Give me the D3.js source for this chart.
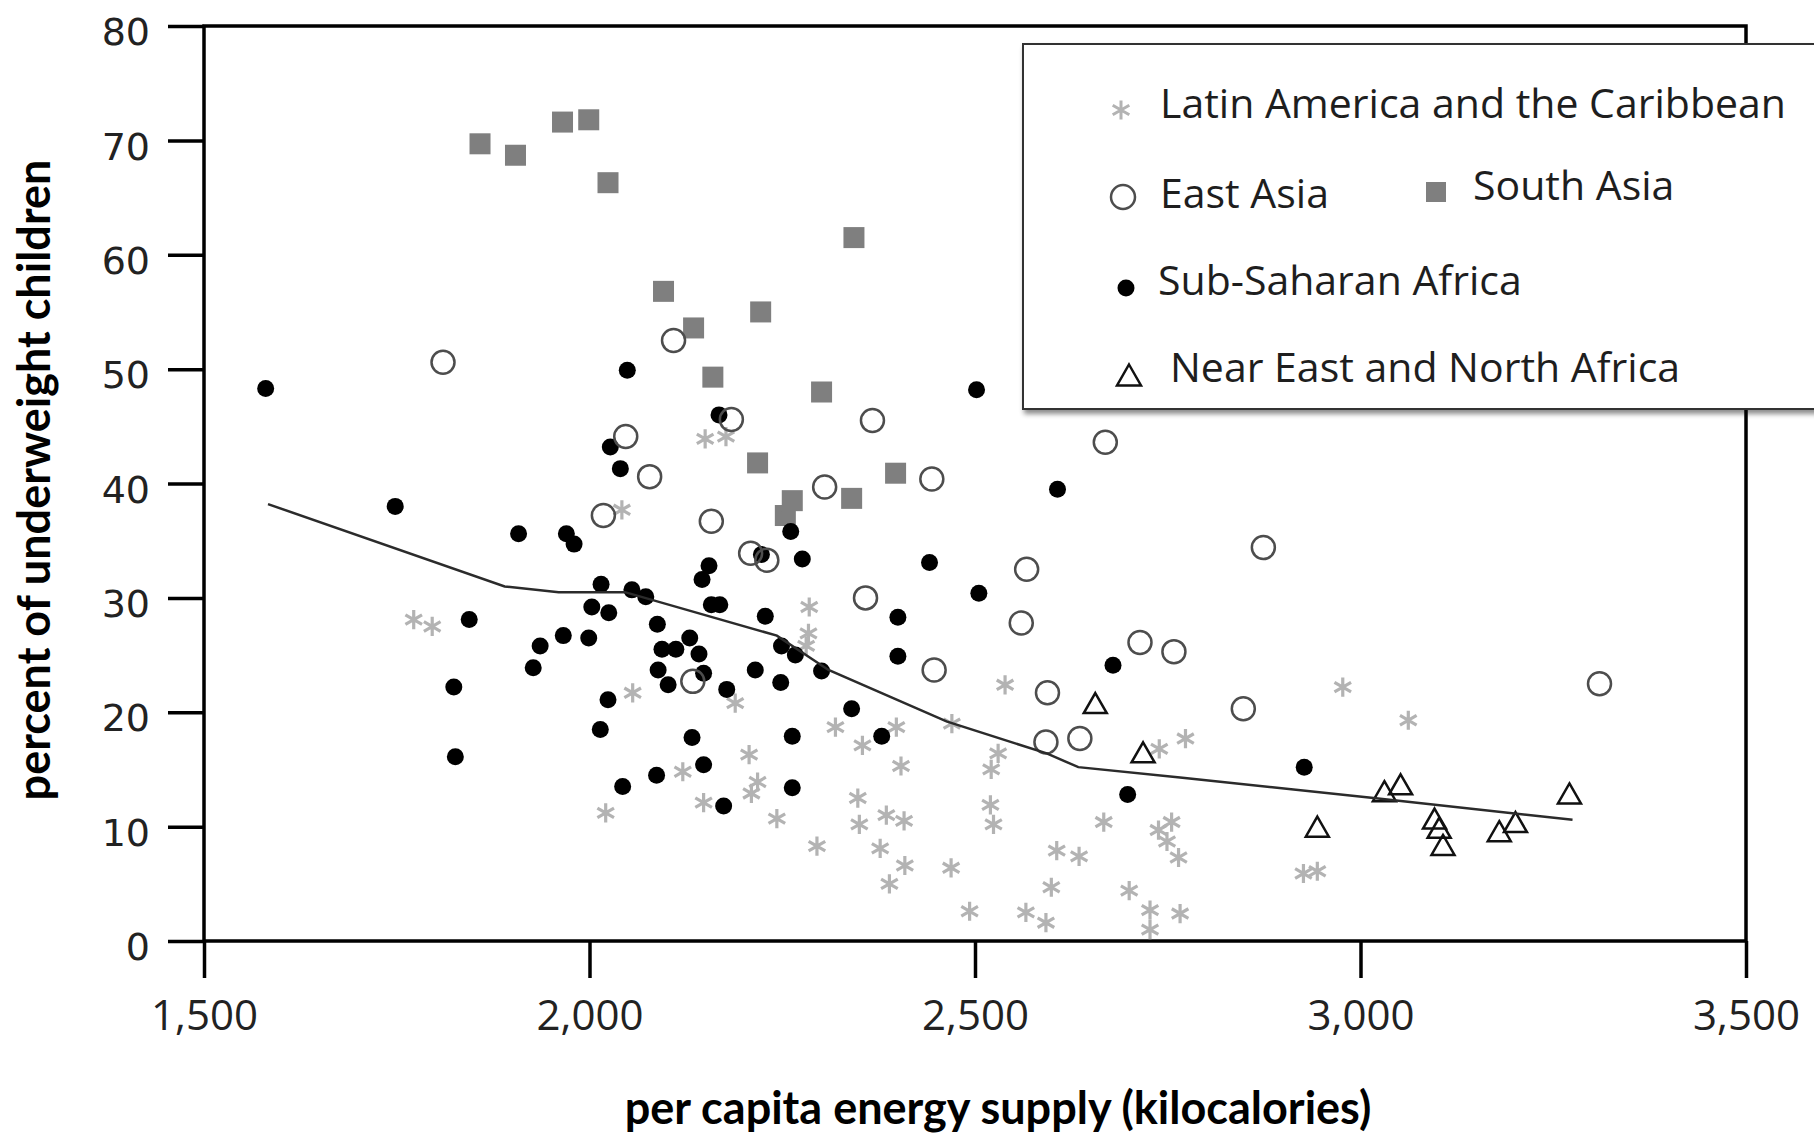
<!DOCTYPE html>
<html lang="en">
<head>
<meta charset="UTF-8">
<title>Underweight children and energy supply</title>
<script src="https://cdn.jsdelivr.net/npm/d3@7"></script>
<style>
  body { margin: 0; padding: 0; background: #fff; }
  svg { display: block; }
</style>
</head>
<body>
<div id="chart"></div>
<script>
// values: [kcal per capita, % underweight]
var latinAmerica = [
  [1772,28.1],[1796,27.5],[2021,11.2],[2042,37.7],[2056,21.7],[2121,14.8],[2148,12.1],[2150,43.9],
  [2177,44.1],[2189,20.8],[2207,16.3],[2210,12.9],[2218,13.9],[2243,10.7],[2281,25.8],[2284,26.9],
  [2285,29.2],[2295,8.3],[2319,18.7],[2348,12.5],[2350,10.2],[2354,17.1],[2377,8.1],[2385,11.0],
  [2389,5.0],[2398,18.7],[2404,15.3],[2408,10.5],[2409,6.6],[2469,6.4],[2470,19.0],[2493,2.6],
  [2520,11.9],[2521,15.0],[2524,10.2],[2530,16.4],[2539,22.4],[2566,2.5],[2592,1.6],[2599,4.7],
  [2606,7.9],[2635,7.4],[2667,10.4],[2700,4.4],[2727,2.7],[2727,1.0],[2738,9.7],[2739,16.8],
  [2749,8.7],[2755,10.4],[2764,7.3],[2766,2.4],[2773,17.7],[2926,5.9],[2944,6.1],[2977,22.2],
  [3062,19.3]
];
var eastAsia = [
  [1810,50.6],[2018,37.2],[2047,44.1],[2078,40.6],[2109,52.5],[2134,22.7],[2158,36.7],[2184,45.6],
  [2209,33.9],[2230,33.3],[2305,39.7],[2358,30.0],[2367,45.5],[2444,40.4],[2447,23.7],[2560,27.8],
  [2567,32.5],[2592,17.4],[2594,21.7],[2636,17.7],[2669,43.6],[2714,26.1],[2758,25.3],[2848,20.3],
  [2874,34.4],[3310,22.5]
];
var southAsia = [
  [1858,69.7],[1904,68.7],[1965,71.6],[1999,71.8],[2024,66.3],[2096,56.8],[2135,53.6],[2160,49.3],
  [2218,41.8],[2222,55.0],[2254,37.2],[2263,38.5],[2301,48.0],[2340,38.7],[2343,61.5],[2397,40.9]
];
var subSaharan = [
  [1580,48.3],[1748,38.0],[1824,22.2],[1826,16.1],[1844,28.1],[1908,35.6],[1927,23.9],[1936,25.8],
  [1966,26.7],[1970,35.6],[1980,34.7],[1999,26.5],[2003,29.2],[2014,18.5],[2015,31.2],[2024,21.1],
  [2025,28.7],[2027,43.2],[2040,41.3],[2043,13.5],[2049,49.9],[2055,30.7],[2073,30.1],[2087,14.5],
  [2088,27.7],[2089,23.7],[2094,25.5],[2102,22.4],[2112,25.5],[2130,26.5],[2133,17.8],[2142,25.1],
  [2146,31.6],[2148,23.4],[2148,15.4],[2155,32.8],[2158,29.4],[2168,46.0],[2169,29.4],[2174,11.8],
  [2178,22.0],[2215,23.7],[2223,33.8],[2228,28.4],[2248,22.6],[2249,25.8],[2261,35.8],[2263,17.9],
  [2263,13.4],[2267,25.0],[2276,33.4],[2301,23.6],[2340,20.3],[2379,17.9],[2400,28.3],[2400,24.9],
  [2441,33.1],[2502,48.2],[2505,30.4],[2607,39.5],[2679,24.1],[2698,12.8],[2927,15.2]
];
var nearEast = [
  [2656,20.8],[2718,16.5],[2944,10.0],[3031,13.1],[3052,13.7],[3096,10.7],[3102,9.9],[3107,8.4],
  [3180,9.6],[3201,10.4],[3271,12.9]
];

// smoothed fit line
var trendKcal = [1583, 1890, 1960, 2046, 2243, 2310, 2463, 2593, 2634, 2766, 3017, 3275];
var trendPct  = [38.2, 31.0, 30.5, 30.5, 26.7, 23.7, 19.2, 16.4, 15.2, 14.3, 12.5, 10.6];

var xTicks = [1500, 2000, 2500, 3000, 3500];
var yTicks = [0, 10, 20, 30, 40, 50, 60, 70, 80];

var regionNames = ["Latin America and the Caribbean", "East Asia", "South Asia",
                   "Sub-Saharan Africa", "Near East and North Africa"];

var W = 1814, H = 1138;

var svg = d3.select("#chart").append("svg")
    .attr("width", W)
    .attr("height", H);

var x = d3.scaleLinear().domain([1500, 3500]).range([204, 1746]);
var y = d3.scaleLinear().domain([0, 80]).range([941, 26]);

// marker drawers
var star = d3.symbol().type(d3.symbolAsterisk).size(260);
function triPath(w, h) {
    return "M0," + (-h / 2) + "L" + (w / 2) + "," + (h / 2) + "L" + (-w / 2) + "," + (h / 2) + "Z";
}

// frame
svg.append("rect")
    .attr("x", x(1500)).attr("y", y(80))
    .attr("width", x(3500) - x(1500))
    .attr("height", y(0) - y(80))
    .attr("fill", "none")
    .attr("stroke", "#000")
    .attr("stroke-width", 3.5);

var yAxis = svg.append("g")
    .attr("transform", "translate(" + x(1500) + ",0)")
    .call(d3.axisLeft(y).tickValues(yTicks).tickSize(36).tickPadding(18));
yAxis.select(".domain").remove();
yAxis.selectAll("line").attr("stroke", "#000").attr("stroke-width", 3.5);
yAxis.selectAll("text")
    .attr("dy", "0.49em")
    .style("font-family", "'DejaVu Sans', sans-serif")
    .style("font-size", "38px")
    .attr("fill", "#222");

var xAxis = svg.append("g")
    .attr("transform", "translate(0," + y(0) + ")")
    .call(d3.axisBottom(x).tickValues(xTicks).tickSize(37).tickPadding(22).tickFormat(d3.format(",")));
xAxis.select(".domain").remove();
xAxis.selectAll("line").attr("stroke", "#000").attr("stroke-width", 3.5);
xAxis.selectAll("text")
    .style("font-family", "'Open Sans', sans-serif")
    .style("font-size", "42px")
    .attr("fill", "#222");

// axis titles
svg.append("text")
    .attr("transform", "translate(50," + 480 + ") rotate(-90)")
    .attr("text-anchor", "middle")
    .style("font-family", "Lato, sans-serif")
    .style("font-weight", "bold")
    .style("font-size", "45px")
    .attr("fill", "#000")
    .text("percent of underweight children");

svg.append("text")
    .attr("x", 998).attr("y", 1124)
    .attr("text-anchor", "middle")
    .style("font-family", "Lato, sans-serif")
    .style("font-weight", "bold")
    .style("font-size", "45px")
    .attr("fill", "#000")
    .text("per capita energy supply (kilocalories)");

// points
var pts = svg.append("g");

pts.selectAll(".la").data(latinAmerica).enter().append("path")
    .attr("class", "la")
    .attr("transform", function (d) { return "translate(" + x(d[0]) + "," + y(d[1]) + ")"; })
    .attr("d", star)
    .attr("fill", "none")
    .attr("stroke", "#b3b3b3")
    .attr("stroke-width", 3.2);

pts.selectAll(".sa").data(southAsia).enter().append("rect")
    .attr("class", "sa")
    .attr("x", function (d) { return x(d[0]) - 10.5; })
    .attr("y", function (d) { return y(d[1]) - 10.5; })
    .attr("width", 21).attr("height", 21)
    .attr("fill", "#7f7f7f");

pts.selectAll(".ssa").data(subSaharan).enter().append("circle")
    .attr("class", "ssa")
    .attr("cx", function (d) { return x(d[0]); })
    .attr("cy", function (d) { return y(d[1]); })
    .attr("r", 8.5)
    .attr("fill", "#000");

pts.selectAll(".ea").data(eastAsia).enter().append("circle")
    .attr("class", "ea")
    .attr("cx", function (d) { return x(d[0]); })
    .attr("cy", function (d) { return y(d[1]); })
    .attr("r", 11.5)
    .attr("fill", "none")
    .attr("stroke", "#4d4d4d")
    .attr("stroke-width", 2.5);

pts.selectAll(".ne").data(nearEast).enter().append("path")
    .attr("class", "ne")
    .attr("transform", function (d) { return "translate(" + x(d[0]) + "," + y(d[1]) + ")"; })
    .attr("d", triPath(23, 20))
    .attr("fill", "none")
    .attr("stroke", "#111")
    .attr("stroke-width", 2.5);

// fit line
var line = d3.line()
    .x(function (d, i) { return x(trendKcal[i]); })
    .y(function (d) { return y(d); });

svg.append("path")
    .datum(trendPct)
    .attr("d", line)
    .attr("fill", "none")
    .attr("stroke", "#2b2b2b")
    .attr("stroke-width", 2.5);

// legend
var defs = svg.append("defs");
var shadow = defs.append("filter").attr("id", "shadow")
    .attr("x", "-5%").attr("y", "-5%").attr("width", "115%").attr("height", "120%");
shadow.append("feDropShadow")
    .attr("dx", 2).attr("dy", 4).attr("stdDeviation", 2.5)
    .attr("flood-color", "#000").attr("flood-opacity", 0.45);

var lg = svg.append("g").attr("transform", "translate(1023,44)");
lg.append("rect")
    .attr("width", 830).attr("height", 365)
    .attr("fill", "#fff")
    .attr("stroke", "#333")
    .attr("stroke-width", 2)
    .attr("filter", "url(#shadow)");

var lgText = function (tx, ty, s) {
    lg.append("text")
        .attr("x", tx).attr("y", ty)
        .style("font-family", "'Open Sans', sans-serif")
        .style("font-size", "41px")
        .attr("fill", "#1e1e1e")
        .text(s);
};

lg.append("path")
    .attr("transform", "translate(98,66)")
    .attr("d", star)
    .attr("fill", "none").attr("stroke", "#b3b3b3").attr("stroke-width", 3);
lgText(137, 74, regionNames[0]);

lg.append("circle")
    .attr("cx", 100).attr("cy", 153).attr("r", 12)
    .attr("fill", "none").attr("stroke", "#4d4d4d").attr("stroke-width", 2.5);
lgText(137, 164, regionNames[1]);

lg.append("rect")
    .attr("x", 403).attr("y", 138).attr("width", 20).attr("height", 20)
    .attr("fill", "#7f7f7f");
lgText(450, 156, regionNames[2]);

lg.append("circle")
    .attr("cx", 103).attr("cy", 244).attr("r", 8.5)
    .attr("fill", "#000");
lgText(135, 251, regionNames[3]);

lg.append("path")
    .attr("transform", "translate(106,331)")
    .attr("d", triPath(24, 21))
    .attr("fill", "none").attr("stroke", "#111").attr("stroke-width", 2.5);
lgText(147, 338, regionNames[4]);
</script>
</body>
</html>
